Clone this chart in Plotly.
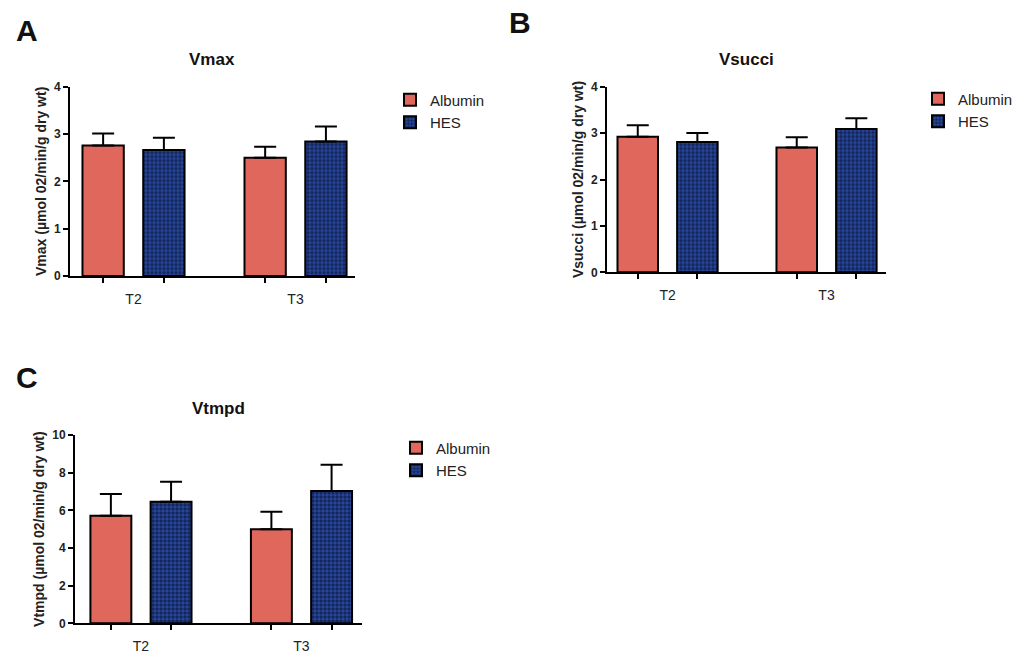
import plotly.graph_objects as go

# ---------------- data ----------------
categories = ["T2", "T3"]
groups = ["Albumin", "HES"]

vmax_albumin = [2.76, 2.50]
vmax_albumin_err = [0.25, 0.23]
vmax_hes = [2.66, 2.84]
vmax_hes_err = [0.26, 0.32]

vsucci_albumin = [2.92, 2.69]
vsucci_albumin_err = [0.25, 0.22]
vsucci_hes = [2.81, 3.09]
vsucci_hes_err = [0.19, 0.23]

vtmpd_albumin = [5.71, 4.99]
vtmpd_albumin_err = [1.16, 0.94]
vtmpd_hes = [6.46, 7.03]
vtmpd_hes_err = [1.06, 1.39]

panel_titles = ["Vmax", "Vsucci", "Vtmpd"]
panel_letters = ["A", "B", "C"]
y_titles = ["Vmax (µmol 02/min/g dry wt)",
            "Vsucci (µmol 02/min/g dry wt)",
            "Vtmpd (µmol 02/min/g dry wt)"]
y_ticks = [[0, 1, 2, 3, 4], [0, 1, 2, 3, 4], [0, 2, 4, 6, 8, 10]]
y_ranges = [[0, 4], [0, 4], [0, 10]]

# ---------------- style ----------------
W, H = 1020, 670
RED = "#e0675c"
BLUE = "#2749a0"
FONT = "Liberation Sans, Arial, sans-serif"
BAR_W = 0.255
OFF_ALB = -0.315
OFF_HES = 0.06

def px_x(p):
    return p / W

def px_y(p):
    return 1 - p / H

# panel geometry in pixels: (x_left, x_right, y_bottom, y_top, xrange)
panels = [
    (70, 355, 276, 86.7, [-0.392, 1.367]),
    (607, 886, 272.3, 86.7, [-0.381, 1.374]),
    (75, 362, 623.3, 435, [-0.411, 1.377]),
]
legend_pos = [(390, 83.5), (918, 82.5), (396, 431.5)]

data_sets = [
    (vmax_albumin, vmax_albumin_err, vmax_hes, vmax_hes_err),
    (vsucci_albumin, vsucci_albumin_err, vsucci_hes, vsucci_hes_err),
    (vtmpd_albumin, vtmpd_albumin_err, vtmpd_hes, vtmpd_hes_err),
]

fig = go.Figure()
layout = dict(
    width=W, height=H,
    margin=dict(l=0, r=0, t=0, b=0, pad=0, autoexpand=False),
    paper_bgcolor="white", plot_bgcolor="rgba(0,0,0,0)",
    barmode="overlay",
    font=dict(family=FONT, color="#111111"),
    annotations=[],
)

for i, (vals, geom, lp) in enumerate(zip(data_sets, panels, legend_pos)):
    alb, alb_e, hes, hes_e = vals
    xl, xr, yb, yt, xrange = geom
    n = i + 1
    xa = "x" if n == 1 else f"x{n}"
    ya = "y" if n == 1 else f"y{n}"
    leg = "legend" if n == 1 else f"legend{n}"

    fig.add_trace(go.Bar(
        x=categories, y=alb, name=groups[0],
        xaxis=xa, yaxis=ya, legend=leg,
        width=BAR_W, offset=OFF_ALB,
        marker=dict(color=RED, line=dict(color="black", width=2)),
        error_y=dict(type="data", array=alb_e, arrayminus=[0] * len(alb_e),
                     symmetric=False, color="black", thickness=2, width=11),
    ))
    fig.add_trace(go.Bar(
        x=categories, y=hes, name=groups[1],
        xaxis=xa, yaxis=ya, legend=leg,
        width=BAR_W, offset=OFF_HES,
        marker=dict(color=BLUE, line=dict(color="black", width=2),
                    pattern=dict(shape=".", fgcolor="#03030f", size=4, solidity=0.6)),
        error_y=dict(type="data", array=hes_e, arrayminus=[0] * len(hes_e),
                     symmetric=False, color="black", thickness=2, width=11),
    ))
    # empty helper trace so the tick-mark overlay axis is drawn
    fig.add_trace(go.Scatter(
        x=[], y=[], xaxis=f"x{n + 3}", yaxis=ya, showlegend=False,
        hoverinfo="skip", mode="markers",
    ))

    xdom = [px_x(xl), px_x(xr)]
    ydom = [px_y(yb), px_y(yt)]
    xkey = "xaxis" if n == 1 else f"xaxis{n}"
    ykey = "yaxis" if n == 1 else f"yaxis{n}"
    layout[xkey] = dict(
        domain=xdom, anchor=ya, range=xrange, type="category",
        showline=True, linecolor="black", linewidth=2,
        ticks="", showgrid=False, zeroline=False, automargin=False,
        tickfont=dict(size=14, family=FONT, color="#222222"),
        ticklabelstandoff=9,
    )
    # tick marks under each bar
    bar_centres = []
    for k in range(len(categories)):
        bar_centres += [k + OFF_ALB + BAR_W / 2, k + OFF_HES + BAR_W / 2]
    tkey = f"xaxis{n + 3}"
    layout[tkey] = dict(
        domain=xdom, anchor=ya, overlaying=xa, range=xrange, type="linear",
        showline=False, ticks="outside", ticklen=6, tickwidth=2, tickcolor="black",
        tickmode="array", tickvals=bar_centres, showticklabels=False,
        showgrid=False, zeroline=False, automargin=False,
    )
    layout[ykey] = dict(
        domain=ydom, anchor=xa, range=y_ranges[i],
        tickmode="array", tickvals=y_ticks[i],
        showline=True, linecolor="black", linewidth=2,
        ticks="outside", ticklen=5, tickwidth=2, tickcolor="black",
        showgrid=False, zeroline=False, automargin=False,
        tickfont=dict(size=12, family=FONT, color="#222222", weight="bold"),
        title=dict(text=y_titles[i], standoff=4,
                   font=dict(size=14, family=FONT, color="#222222", weight="bold")),
    )
    layout[leg] = dict(
        x=px_x(lp[0]), y=px_y(lp[1]), xanchor="left", yanchor="top",
        bgcolor="rgba(0,0,0,0)", font=dict(size=15, family=FONT, color="#222222"),
        traceorder="normal", itemwidth=30,
    )
    layout["annotations"].append(dict(
        text=panel_titles[i], x=(xdom[0] + xdom[1]) / 2, y=ydom[1] + 27 / H,
        xref="paper", yref="paper", showarrow=False, xanchor="center", yanchor="middle",
        font=dict(size=17, family=FONT, color="#111111", weight="bold"),
    ))

letter_pos = [(27, 31), (520, 22), (27, 377)]
for letter, (lx, ly) in zip(panel_letters, letter_pos):
    layout["annotations"].append(dict(
        text=letter, x=px_x(lx), y=px_y(ly), xref="paper", yref="paper",
        showarrow=False, xanchor="center", yanchor="middle",
        font=dict(size=30, family=FONT, color="#111111", weight="bold"),
    ))

fig.update_layout(**layout)
fig.write_html(
    "out.html",
    config={"displayModeBar": False},
    post_script="document.body.style.margin='0';document.body.style.overflow='hidden';",
)
